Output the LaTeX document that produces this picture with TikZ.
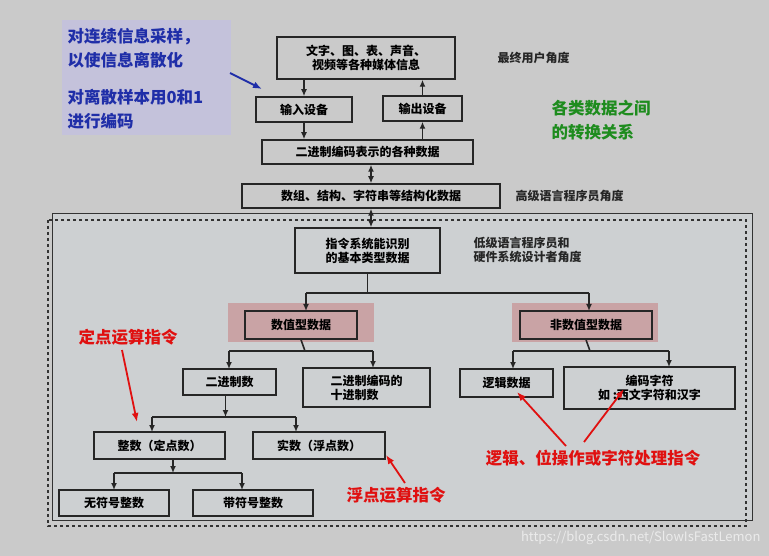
\documentclass[tikz,border=0pt]{standalone}
\usepackage{fontspec}
\setmainfont{Noto Sans CJK SC}
\usetikzlibrary{arrows.meta}
\definecolor{bg}{HTML}{CACACA}
\definecolor{inner}{HTML}{CDD0D2}
\definecolor{pinkhl}{HTML}{C9A3A5}
\definecolor{lav}{HTML}{C4C2DB}
\definecolor{bluetxt}{HTML}{1F2EA8}
\definecolor{redtxt}{HTML}{E01010}
\definecolor{greentxt}{HTML}{1E8C1E}
\tikzset{
  bx/.style={draw=black!85, line width=1.5pt, inner sep=2pt, font=\fontsize{12}{14}\selectfont\bfseries, align=center},
  ar/.style={-{Latex[length=7pt,width=6pt]}, line width=1.6pt, black!85},
  dar/.style={{Latex[length=7pt,width=6pt]}-{Latex[length=7pt,width=6pt]}, line width=1.6pt, black!85},
  ln/.style={line width=1.6pt, black!85},
  lbl/.style={font=\fontsize{12}{14}\selectfont\bfseries, align=left, text=black!85},
  redl/.style={font=\fontsize{16.5}{18}\selectfont\bfseries, text=redtxt},
  rar/.style={-{Latex[length=9pt,width=7pt]}, line width=1.8pt, redtxt},
}
\begin{document}
\begin{tikzpicture}[x=1pt,y=-1pt]
\fill[bg] (0,0) rectangle (769,556);
\useasboundingbox (0,0) rectangle (769,556);
% inner region
\filldraw[fill=inner, draw=black!80, line width=1pt] (52,214) rectangle (752,520);
\draw[black!80, line width=1.5pt, dashed] (48,220) rectangle (746,526);
% blue note
\fill[lav] (62,20) rectangle (231,135);
\node[anchor=west, text=bluetxt, font=\fontsize{16.5}{24}\selectfont\bfseries, align=left] (note1) at (64,48) {对连续信息采样，\\以使信息离散化};
\node[anchor=west, text=bluetxt, font=\fontsize{16.5}{24}\selectfont\bfseries, align=left] (note2) at (64,109) {对离散样本用0和1\\进行编码};
\coordinate (ba1) at (230,73); \coordinate (ba2) at (262,89);
\draw[-{Latex[length=9pt,width=7pt]}, line width=1.8pt, bluetxt] (ba1) -- (ba2);
% green
\node[anchor=west, text=greentxt, font=\fontsize{16.5}{24}\selectfont\bfseries, align=left] (green) at (548,120) {各类数据之间\\的转换关系};
% top boxes
\node[bx, minimum width=178pt, minimum height=42pt] (media) at (366,58) {文字、图、表、声音、\\视频等各种媒体信息};
\node[lbl, anchor=west] (l1) at (494,58) {最终用户角度};
\node[bx, minimum width=96pt, minimum height=25pt] (in) at (304,109.5) {输入设备};
\node[bx, minimum width=79pt, minimum height=25pt] (out) at (422.5,108.5) {输出设备};
\node[bx, minimum width=211pt, minimum height=24pt] (bin) at (367.5,152) {二进制编码表示的各种数据};
\node[bx, minimum width=258pt, minimum height=24pt] (st) at (371,196) {数组、结构、字符串等结构化数据};
\node[lbl, anchor=west] (l2) at (512,196) {高级语言程序员角度};
\node[bx, minimum width=145pt, minimum height=45pt] (ins) at (367.5,250.5) {指令系统能识别\\的基本类型数据};
\node[lbl, anchor=west] (l3) at (470,250) {低级语言程序员和\\硬件系统设计者角度};
\draw[ar] (in.north |- media.south) -- (in.north);
\draw[ar] (out.north) -- (out.north |- media.south);
\draw[ar] (in.south) -- (in.south |- bin.north);
\draw[ar] (out.south |- bin.north) -- (out.south);
\draw[dar] (bin.south -| st.north) -- (st.north);
\draw[dar] (st.south) -- (st.south |- ins.north);
% numeric
\fill[pinkhl] (228,303) rectangle (374,342);
\fill[pinkhl] (512,303) rectangle (658,342);
\node[bx, minimum width=112pt, minimum height=28pt] (num) at (301,325) {数值型数据};
\node[bx, minimum width=132pt, minimum height=28pt] (non) at (586,325) {非数值型数据};
\coordinate (j1) at (367.5,293);
\draw[ln] (ins.south) -- (j1);
\draw[ln] (306,293) -- (589,293);
\draw[ar] (306,293) -- (306,311);
\draw[ar] (589,293) -- (589,311);
% level 3
\node[bx, minimum width=93pt, minimum height=26pt] (b2) at (229.5,382) {二进制数};
\node[bx, minimum width=127pt, minimum height=39pt, align=left] (bcd) at (366.5,387.5) {二进制编码的\\十进制数\hspace{3em}};
\node[bx, minimum width=93pt, minimum height=28pt] (logic) at (506.5,383) {逻辑数据};
\node[bx, minimum width=171pt, minimum height=42pt] (chr) at (649.5,388) {编码字符\\如 :西文字符和汉字};
\draw[ln] (num.south) -- (305,351);
\draw[ln] (229,351) -- (373,351);
\draw[ar] (229,351) -- (229,369);
\draw[ar] (373,351) -- (373,368);
\draw[ln] (non.south) -- (590,351);
\draw[ln] (513,351) -- (669,351);
\draw[ar] (513,351) -- (513,369);
\draw[ar] (669,351) -- (669,367);
% level 4
\node[bx, minimum width=131pt, minimum height=27pt] (int) at (159.5,445.5) {整数（定点数）};
\node[bx, minimum width=132pt, minimum height=27pt] (real) at (319,445.5) {实数（浮点数）};
\draw[ar] (225.5,395) -- (225.5,417);
\draw[ln] (152,417) -- (296,417);
\draw[ar] (152,417) -- (152,432);
\draw[ar] (296,417) -- (296,432);
% level 5
\node[bx, minimum width=110pt, minimum height=26pt] (uns) at (114,503) {无符号整数};
\node[bx, minimum width=120pt, minimum height=26pt] (sig) at (253,503) {带符号整数};
\draw[ar] (173,459) -- (173,473);
\draw[ln] (114,473) -- (242,473);
\draw[ar] (114,473) -- (114,490);
\draw[ar] (242,473) -- (242,490);
% red annotations
\node[redl] (fix) at (128,337) {定点运算指令};
\draw[rar] (122,350) -- (137,422);
\node[redl] (flt) at (396,495) {浮点运算指令};
\draw[rar] (405,483) -- (386,455);
\node[redl] (lg) at (593,458) {逻辑、位操作或字符处理指令};
\draw[rar] (566,446) -- (517,392);
\draw[rar] (584,442) -- (624,389);
% watermark
\node[text=white!92!black, font=\fontsize{13}{14}\selectfont, anchor=east] (wm) at (764,538) {https://blog.csdn.net/SlowIsFastLemon};
\end{tikzpicture}
\end{document}
